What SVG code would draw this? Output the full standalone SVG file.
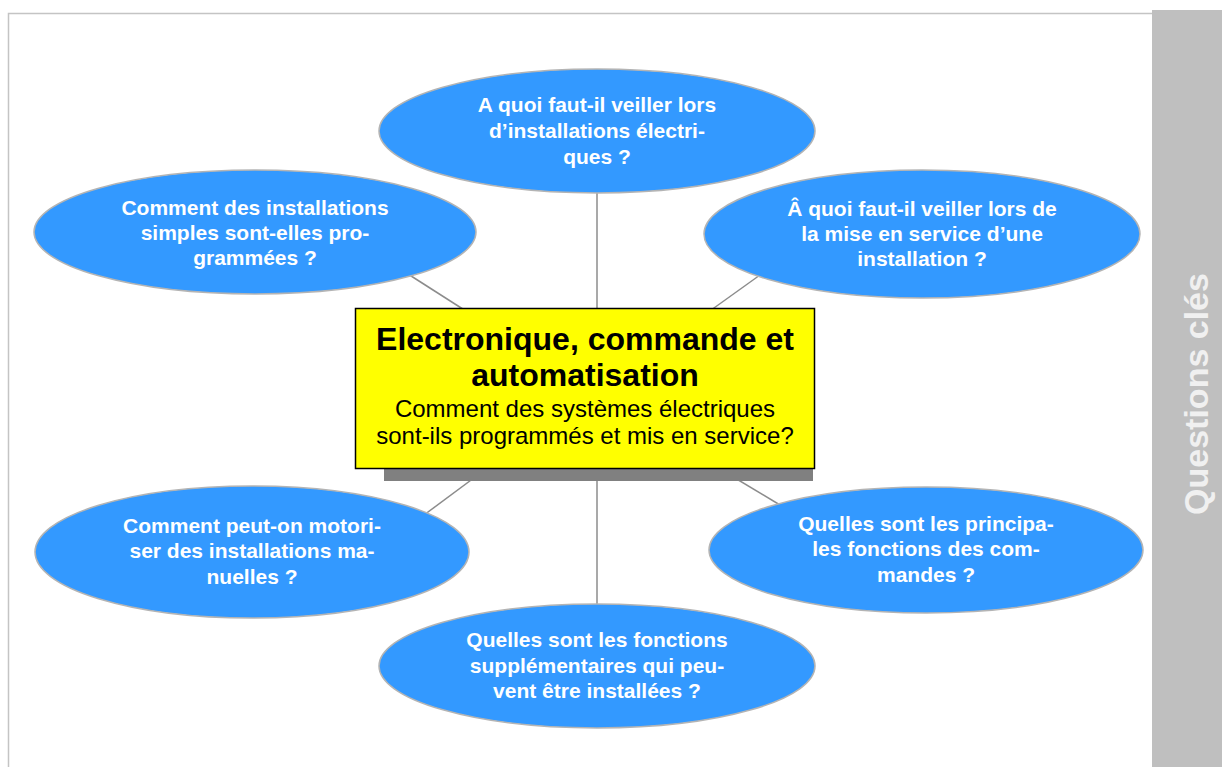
<svg xmlns="http://www.w3.org/2000/svg" width="1222" height="767" viewBox="0 0 1222 767">
<style>
.q{fill:#3399ff;stroke:#b4b4b4;stroke-width:1.5}
.qt{font-family:"Liberation Sans",Arial,sans-serif;font-weight:bold;font-size:21px;fill:#ffffff;text-anchor:middle}
.c{stroke:#8c8c8c;stroke-width:1.5;fill:none}
.t1{font-family:"Liberation Sans",Arial,sans-serif;font-weight:bold;font-size:32px;fill:#000;text-anchor:middle}
.t2{font-family:"Liberation Sans",Arial,sans-serif;font-size:24px;fill:#000;text-anchor:middle}
</style>
<rect width="1222" height="767" fill="#ffffff"/>
<path d="M8.5,767 V13.5 H1152" fill="none" stroke="#c4c4c4" stroke-width="1.5"/>
<g id="sidebar">
<rect x="1152" y="10" width="70" height="757" fill="#bfbfbf"/>
<text transform="translate(1208,394) rotate(-90)" font-family="Liberation Sans,Arial,sans-serif" font-weight="bold" font-size="34" fill="#f0f0f0" text-anchor="middle">Questions clés</text>
</g>
<g id="connectors">
<line class="c" x1="597" y1="190" x2="597" y2="320"/>
<line class="c" x1="597" y1="470" x2="597" y2="606"/>
<line class="c" x1="408" y1="274" x2="480" y2="320"/>
<line class="c" x1="760" y1="275" x2="700" y2="318"/>
<line class="c" x1="490" y1="466" x2="424" y2="515"/>
<line class="c" x1="715" y1="466" x2="780" y2="505"/>
</g>
<g id="n-top">
<ellipse class="q" cx="597" cy="131" rx="218" ry="62"/>
<text class="qt" x="597" y="112">A quoi faut-il veiller lors</text>
<text class="qt" x="597" y="138">d’installations électri-</text>
<text class="qt" x="597" y="164">ques ?</text>
</g>
<g id="n-topleft">
<ellipse class="q" cx="255" cy="232" rx="221" ry="62"/>
<text class="qt" x="255" y="215">Comment des installations</text>
<text class="qt" x="255" y="240">simples sont-elles pro-</text>
<text class="qt" x="255" y="265">grammées ?</text>
</g>
<g id="n-topright">
<ellipse class="q" cx="922" cy="234" rx="218" ry="64"/>
<text class="qt" x="922" y="216">Â quoi faut-il veiller lors de</text>
<text class="qt" x="922" y="241">la mise en service d’une</text>
<text class="qt" x="922" y="266">installation ?</text>
</g>
<g id="n-bottomleft">
<ellipse class="q" cx="252" cy="552" rx="217" ry="66"/>
<text class="qt" x="252" y="533">Comment peut-on motori-</text>
<text class="qt" x="252" y="558">ser des installations ma-</text>
<text class="qt" x="252" y="584">nuelles ?</text>
</g>
<g id="n-bottomright">
<ellipse class="q" cx="926" cy="550" rx="217" ry="63"/>
<text class="qt" x="926" y="531">Quelles sont les principa-</text>
<text class="qt" x="926" y="556">les fonctions des com-</text>
<text class="qt" x="926" y="582">mandes ?</text>
</g>
<g id="n-bottom">
<ellipse class="q" cx="597" cy="666" rx="218" ry="62"/>
<text class="qt" x="597" y="647">Quelles sont les fonctions</text>
<text class="qt" x="597" y="673">supplémentaires qui peu-</text>
<text class="qt" x="597" y="698">vent être installées ?</text>
</g>
<g id="center">
<rect x="384" y="320" width="429" height="161" fill="#808080"/>
<rect x="355.5" y="308.5" width="459" height="160" fill="#ffff00" stroke="#000" stroke-width="1.5"/>
<text class="t1" x="585" y="350">Electronique, commande et</text>
<text class="t1" x="585" y="386">automatisation</text>
<text class="t2" x="585" y="417">Comment des systèmes électriques</text>
<text class="t2" x="585" y="444">sont-ils programmés et mis en service?</text>
</g>
</svg>
